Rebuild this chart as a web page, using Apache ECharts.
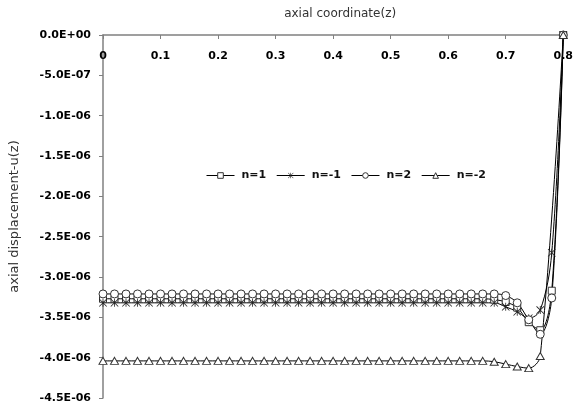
<!DOCTYPE html>
<html>
<head>
<meta charset="utf-8">
<script src="https://cdn.jsdelivr.net/npm/echarts@6/dist/echarts.min.js"></script>
<style>html,body{margin:0;padding:0;background:#fff}#c{width:576px;height:408px}</style>
</head>
<body>
<div id="c"></div>
<script>
// axial coordinate z
const z = [0,0.02,0.04,0.06,0.08,0.10,0.12,0.14,0.16,0.18,0.20,0.22,0.24,0.26,0.28,0.30,0.32,0.34,0.36,0.38,0.40,
           0.42,0.44,0.46,0.48,0.50,0.52,0.54,0.56,0.58,0.60,0.62,0.64,0.66,0.68,0.70,0.72,0.74,0.76,0.78,0.80];
const nP1 = [-3.27e-6,-3.27e-6,-3.27e-6,-3.27e-6,-3.27e-6,-3.27e-6,-3.27e-6,-3.27e-6,-3.27e-6,-3.27e-6,-3.27e-6,
             -3.27e-6,-3.27e-6,-3.27e-6,-3.27e-6,-3.27e-6,-3.27e-6,-3.27e-6,-3.27e-6,-3.27e-6,-3.27e-6,
             -3.27e-6,-3.27e-6,-3.27e-6,-3.27e-6,-3.27e-6,-3.27e-6,-3.27e-6,-3.27e-6,-3.27e-6,-3.27e-6,
             -3.27e-6,-3.27e-6,-3.27e-6,-3.28e-6,-3.31e-6,-3.38e-6,-3.56e-6,-3.66e-6,-3.17e-6,0];
const nM1 = [-3.32e-6,-3.32e-6,-3.32e-6,-3.32e-6,-3.32e-6,-3.32e-6,-3.32e-6,-3.32e-6,-3.32e-6,-3.32e-6,-3.32e-6,
             -3.32e-6,-3.32e-6,-3.32e-6,-3.32e-6,-3.32e-6,-3.32e-6,-3.32e-6,-3.32e-6,-3.32e-6,-3.32e-6,
             -3.32e-6,-3.32e-6,-3.32e-6,-3.32e-6,-3.32e-6,-3.32e-6,-3.32e-6,-3.32e-6,-3.32e-6,-3.32e-6,
             -3.32e-6,-3.32e-6,-3.32e-6,-3.32e-6,-3.37e-6,-3.43e-6,-3.51e-6,-3.41e-6,-2.70e-6,0];
const nP2 = [-3.21e-6,-3.21e-6,-3.21e-6,-3.21e-6,-3.21e-6,-3.21e-6,-3.21e-6,-3.21e-6,-3.21e-6,-3.21e-6,-3.21e-6,
             -3.21e-6,-3.21e-6,-3.21e-6,-3.21e-6,-3.21e-6,-3.21e-6,-3.21e-6,-3.21e-6,-3.21e-6,-3.21e-6,
             -3.21e-6,-3.21e-6,-3.21e-6,-3.21e-6,-3.21e-6,-3.21e-6,-3.21e-6,-3.21e-6,-3.21e-6,-3.21e-6,
             -3.21e-6,-3.21e-6,-3.21e-6,-3.21e-6,-3.23e-6,-3.32e-6,-3.53e-6,-3.71e-6,-3.26e-6,0];
const nM2 = [-4.04e-6,-4.04e-6,-4.04e-6,-4.04e-6,-4.04e-6,-4.04e-6,-4.04e-6,-4.04e-6,-4.04e-6,-4.04e-6,-4.04e-6,
             -4.04e-6,-4.04e-6,-4.04e-6,-4.04e-6,-4.04e-6,-4.04e-6,-4.04e-6,-4.04e-6,-4.04e-6,-4.04e-6,
             -4.04e-6,-4.04e-6,-4.04e-6,-4.04e-6,-4.04e-6,-4.04e-6,-4.04e-6,-4.04e-6,-4.04e-6,-4.04e-6,
             -4.04e-6,-4.04e-6,-4.04e-6,-4.05e-6,-4.08e-6,-4.11e-6,-4.13e-6,-3.98e-6,null,0];
const seriesNames = ['n=1','n=-1','n=2','n=-2'];

const ASTERISK = 'path://M4.5 0 L5.5 0 L5.5 10 L4.5 10 Z M0 0.7 L0.7 0 L10 9.3 L9.3 10 Z M9.3 0 L10 0.7 L0.7 10 L0 9.3 Z';

function fmtE(v){
  if (Math.abs(v) < 1e-15) return '0.0E+00';
  let e = Math.floor(Math.log10(Math.abs(v)));
  let ms = (v / Math.pow(10, e)).toFixed(1);
  if (Math.abs(parseFloat(ms)) >= 10) { e += 1; ms = (v / Math.pow(10, e)).toFixed(1); }
  if (Math.abs(parseFloat(ms)) < 1) { e -= 1; ms = (v / Math.pow(10, e)).toFixed(1); }
  return ms + 'E' + (e < 0 ? '-' : '+') + String(Math.abs(e)).padStart(2, '0');
}
function pairs(ys){ return z.map((x,i)=>[x, ys[i]]); }

const baseLine = {type:'line', smooth:0.35, connectNulls:true, showAllSymbol:true,
  lineStyle:{color:'#000', width:1}, emphasis:{disabled:true}};
const symStyle = {color:'#fff', borderColor:'#333', borderWidth:1};

const chart = echarts.init(document.getElementById('c'), null, {renderer:'canvas'});
chart.setOption({
  animation:false,
  backgroundColor:'#fff',
  grid:{left:94, right:9, top:35, bottom:10, containLabel:false},
  legend:{
    left:201, top:165, itemWidth:28, itemHeight:7, itemGap:10,
    itemStyle:{borderWidth:1},
    lineStyle:{width:1},
    textStyle:{fontFamily:'DejaVu Sans', fontSize:11, fontWeight:'bold', color:'#111', padding:[0,0,0,2]},
    data:seriesNames
  },
  xAxis:{
    type:'value', position:'top', min:0, max:0.8, interval:0.1,
    name:'axial coordinate(z)', nameLocation:'middle', nameGap:15,
    nameTextStyle:{fontFamily:'DejaVu Sans', fontSize:12, color:'#333', padding:[0,0,0,14]},
    axisLine:{show:true, onZero:false, lineStyle:{color:'#808080', width:1.5}},
    axisTick:{show:true, inside:true, length:4, lineStyle:{color:'#808080', width:1}},
    axisLabel:{inside:true, margin:16, fontFamily:'DejaVu Sans', fontSize:11, fontWeight:'bold', color:'#000',
      formatter:function(v){ return v===0 ? '0' : v.toFixed(1); }},
    splitLine:{show:false}
  },
  yAxis:{
    type:'value', min:-4.5e-6, max:0, interval:5e-7,
    name:'axial displacement-u(z)', nameLocation:'middle', nameGap:82,
    nameTextStyle:{fontFamily:'DejaVu Sans', fontSize:13, color:'#333'},
    axisLine:{show:true, onZero:false, lineStyle:{color:'#808080', width:1.5}},
    axisTick:{show:true, inside:false, length:4, lineStyle:{color:'#808080', width:1}},
    axisLabel:{margin:12, fontFamily:'DejaVu Sans', fontSize:11, fontWeight:'bold', color:'#000', formatter:fmtE},
    splitLine:{show:false}
  },
  series:[
    Object.assign({}, baseLine, {name:seriesNames[0], data:pairs(nP1), symbol:'rect', symbolSize:7, itemStyle:symStyle}),
    Object.assign({}, baseLine, {name:seriesNames[1], data:pairs(nM1), symbol:ASTERISK, symbolSize:8, itemStyle:{color:'#222', borderWidth:0}}),
    Object.assign({}, baseLine, {name:seriesNames[2], data:pairs(nP2), symbol:'circle', symbolSize:8, itemStyle:symStyle}),
    Object.assign({}, baseLine, {name:seriesNames[3], data:pairs(nM2), symbol:'triangle', symbolSize:[8,7], itemStyle:symStyle})
  ]
});
</script>
</body>
</html>
